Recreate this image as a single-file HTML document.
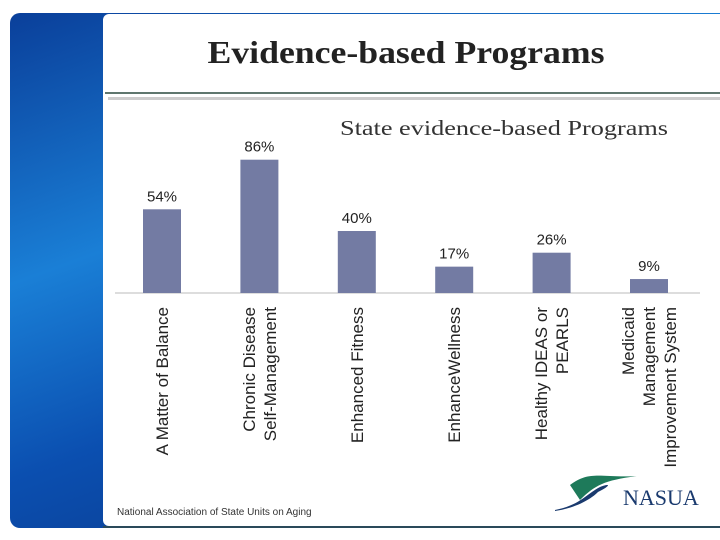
<!DOCTYPE html>
<html><head><meta charset="utf-8"><style>
body{margin:0;width:720px;height:540px;background:#fff;position:relative;overflow:hidden;font-family:"Liberation Sans",sans-serif}
#panel{position:absolute;left:10px;top:13px;width:720px;height:515px;border-radius:10px;background:linear-gradient(160deg,#0a3f9a 0%,#1a7fd6 35%,#0b4fb0 60%,#0a2f7a 100%)}
#card{position:absolute;left:103px;top:14px;width:630px;height:512px;background:#fff;border-radius:6px 0 0 6px}
</style></head><body>
<div id="panel"></div>
<div id="card"></div>
<svg id="chart" width="720" height="540" style="position:absolute;left:0;top:0">
<text x="406" y="63" text-anchor="middle" font-family="Liberation Serif,serif" font-size="32" font-weight="bold" fill="#222" textLength="397" lengthAdjust="spacingAndGlyphs">Evidence-based Programs</text>
<line x1="105" y1="93" x2="720" y2="93" stroke="#2a4a3f" stroke-width="1.5"/>
<line x1="108" y1="98.5" x2="720" y2="98.5" stroke="#ccc" stroke-width="3"/>
<text x="504" y="135" text-anchor="middle" font-family="Liberation Serif,serif" font-size="21" fill="#333" textLength="328" lengthAdjust="spacingAndGlyphs">State evidence-based Programs</text>
<g id="bars"></g>
<text x="117" y="515" font-size="10" fill="#333">National Association of State Units on Aging</text>
<g>
<path d="M570 485 C590 470 600 478 638 476 C605 480 595 485 580 500 Z" fill="#1e7a5a"/>
<path d="M555 510 C580 505 585 495 600 487 C610 483 612 485 598 492 C590 500 575 508 555 511 Z" fill="#1a3a6e"/>
<text x="623" y="505" font-family="Liberation Serif,serif" font-size="22" fill="#1a3a6e">NASUA</text>
</g>
<line x1="103" y1="527" x2="720" y2="527" stroke="#2a4a5a" stroke-width="2"/>
</svg>
<script>
const categories=[["A Matter of Balance"],["Chronic Disease","Self-Management"],["Enhanced Fitness"],["EnhanceWellness"],["Healthy IDEAS or","PEARLS"],["Medicaid","Management","Improvement System"]];
const values=[54,86,40,17,26,9];
const valueLabels=["54%","86%","40%","17%","26%","9%"];
const ns="http://www.w3.org/2000/svg";
const g=document.getElementById('bars');
const baseY=293,pxPer=1.55,x0=162,step=97.4,bw=38;
function xs(i){return x0+i*step;}
function ys(v){return baseY-v*pxPer;}
const ax=document.createElementNS(ns,'line');
ax.setAttribute('x1',115);ax.setAttribute('x2',700);ax.setAttribute('y1',baseY);ax.setAttribute('y2',baseY);
ax.setAttribute('stroke','#bbb');


g.appendChild(ax);
values.forEach((v,i)=>{
 const r=document.createElementNS(ns,'rect');
 r.setAttribute('x',xs(i)-bw/2);r.setAttribute('y',ys(v));r.setAttribute('width',bw);r.setAttribute('height',baseY-ys(v));
 r.setAttribute('fill','#737ba3');
 
 
 g.appendChild(r);
 const t=document.createElementNS(ns,'text');
 t.setAttribute('x',xs(i));t.setAttribute('y',ys(v)-8);t.setAttribute('text-anchor','middle');
 t.setAttribute('font-size','15');t.setAttribute('fill','#222');t.textContent=valueLabels[i];
 
 
 g.appendChild(t);
 const lines=categories[i];
 lines.forEach((ln,j)=>{
  const c=document.createElementNS(ns,'text');
  const lx=xs(i)+6+(j-(lines.length-1)/2)*21;
  c.setAttribute('transform','translate('+lx+',307) rotate(-90)');
  c.setAttribute('text-anchor','end');c.setAttribute('font-size','17');c.setAttribute('fill','#222');
  c.textContent=ln;
  
  
  g.appendChild(c);
 });
});
</script>
</body></html>
